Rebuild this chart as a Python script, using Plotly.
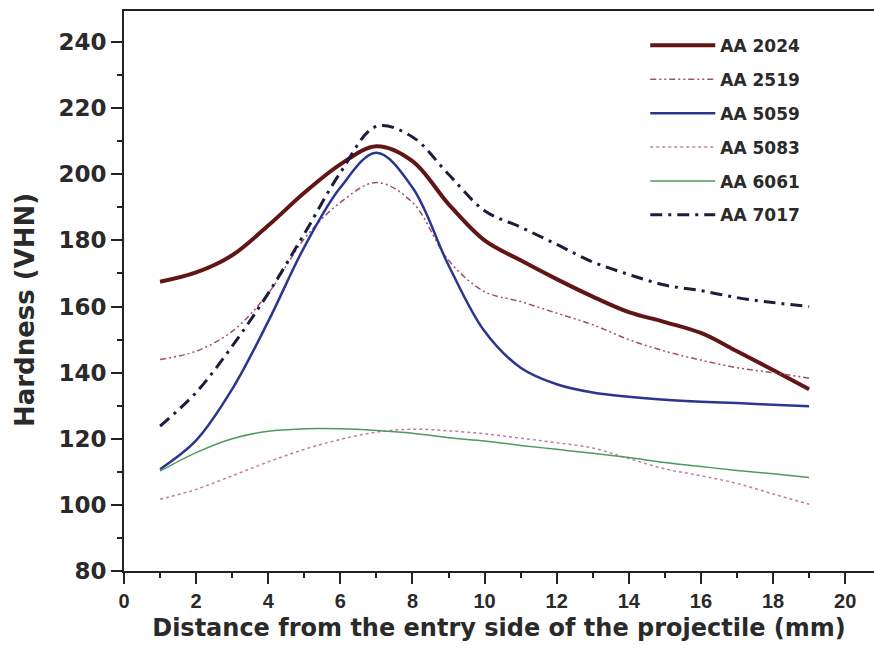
import plotly.graph_objects as go

distance = [1, 2, 3, 4, 5, 6, 7, 8, 9, 10, 11, 12, 13, 14, 15, 16, 17, 18, 19]

aa2024 = [167.5, 170.3, 175.5, 184.5, 194.4, 203.0, 208.5, 204.0, 191.0, 180.0, 174.0, 168.3, 163.0, 158.3, 155.3, 152.0, 146.5, 140.8, 135.0]
aa2519 = [144.0, 146.5, 152.5, 164.0, 180.5, 191.5, 197.5, 191.5, 174.0, 164.5, 161.5, 158.0, 154.5, 150.0, 146.5, 143.8, 141.5, 140.0, 138.3]
aa5059 = [110.8, 119.5, 135.0, 155.5, 178.0, 196.0, 206.5, 196.0, 172.5, 152.5, 141.5, 136.5, 134.0, 132.7, 131.8, 131.2, 130.8, 130.3, 129.8]
aa5083 = [101.7, 104.7, 108.8, 113.0, 116.8, 119.8, 122.0, 122.9, 122.4, 121.5, 120.2, 118.8, 117.2, 114.0, 110.9, 108.8, 106.5, 103.3, 100.2]
aa6061 = [110.2, 115.8, 120.0, 122.3, 123.0, 123.0, 122.5, 121.7, 120.3, 119.3, 118.0, 116.8, 115.6, 114.3, 112.8, 111.6, 110.4, 109.4, 108.3]
aa7017 = [123.8, 134.0, 148.0, 164.0, 182.0, 200.5, 214.5, 211.3, 200.0, 189.0, 184.0, 178.8, 173.5, 169.7, 166.5, 164.8, 162.7, 161.2, 160.0]

names = ["AA 2024", "AA 2519", "AA 5059", "AA 5083", "AA 6061", "AA 7017"]
series = [aa2024, aa2519, aa5059, aa5083, aa6061, aa7017]
colors = ["#621515", "#a0506e", "#2a3590", "#c47aa8", "#4e9a5a", "#1c1c3c"]
widths = [4, 1.5, 2.5, 1.5, 1.5, 3]
dashes = ["solid", "6px,3px,2px,3px,2px,3px", "solid", "3px,3px", "solid", "12px,6px,3px,6px"]

fig = go.Figure()
for i, (n, ys) in enumerate(zip(names, series)):
    fig.add_trace(go.Scatter(
        x=distance, y=ys, mode="lines", name=n, legendgroup=n,
        line=dict(color=colors[i], width=widths[i], dash=dashes[i], shape="spline", smoothing=1.0),
    ))

text_color = "#2a2a2a"
fig.update_layout(
    width=874, height=655,
    margin=dict(l=124, r=0, t=11, b=84),
    paper_bgcolor="white", plot_bgcolor="white",
    showlegend=True,
    legend=dict(
        x=0.695, y=0.97, xanchor="left", yanchor="top",
        font=dict(family="DejaVu Sans", size=17, color=text_color, weight="bold"),
        itemwidth=65, tracegroupgap=8.8, bgcolor="rgba(0,0,0,0)",
    ),
    xaxis=dict(
        range=[0, 20.8], tickmode="array", tickvals=[0, 2, 4, 6, 8, 10, 12, 14, 16, 18, 20],
        showline=True, linecolor="#222", linewidth=2, mirror=True,
        ticks="outside", ticklen=11, tickwidth=2, tickcolor="#222",
        minor=dict(tickmode="array", tickvals=[1, 3, 5, 7, 9, 11, 13, 15, 17, 19], ticks="outside", ticklen=5, tickwidth=2, tickcolor="#222"),
        showgrid=False, zeroline=False,
        tickfont=dict(family="Liberation Sans", size=20, color=text_color, weight="bold"),
        title=dict(text="Distance from the entry side of the projectile (mm)",
                   font=dict(family="DejaVu Sans", size=24, color=text_color, weight="bold"), standoff=8),
    ),
    yaxis=dict(
        range=[80, 249.4], tickmode="array", tickvals=[80, 100, 120, 140, 160, 180, 200, 220, 240],
        showline=True, linecolor="#222", linewidth=2, mirror=False,
        ticks="outside", ticklen=11, tickwidth=2, tickcolor="#222",
        minor=dict(tickmode="array", tickvals=[90, 110, 130, 150, 170, 190, 210, 230], ticks="outside", ticklen=5, tickwidth=2, tickcolor="#222"),
        showgrid=False, zeroline=False,
        tickfont=dict(family="DejaVu Sans", size=23, color=text_color, weight="bold"),
    ),
    annotations=[dict(
        text="Hardness (VHN)", textangle=-90, showarrow=False,
        xref="paper", yref="paper", x=-0.132, y=0.466, xanchor="center", yanchor="middle",
        font=dict(family="DejaVu Sans", size=26, color=text_color, weight="bold"),
    )],
)

fig.write_html("out.html")
